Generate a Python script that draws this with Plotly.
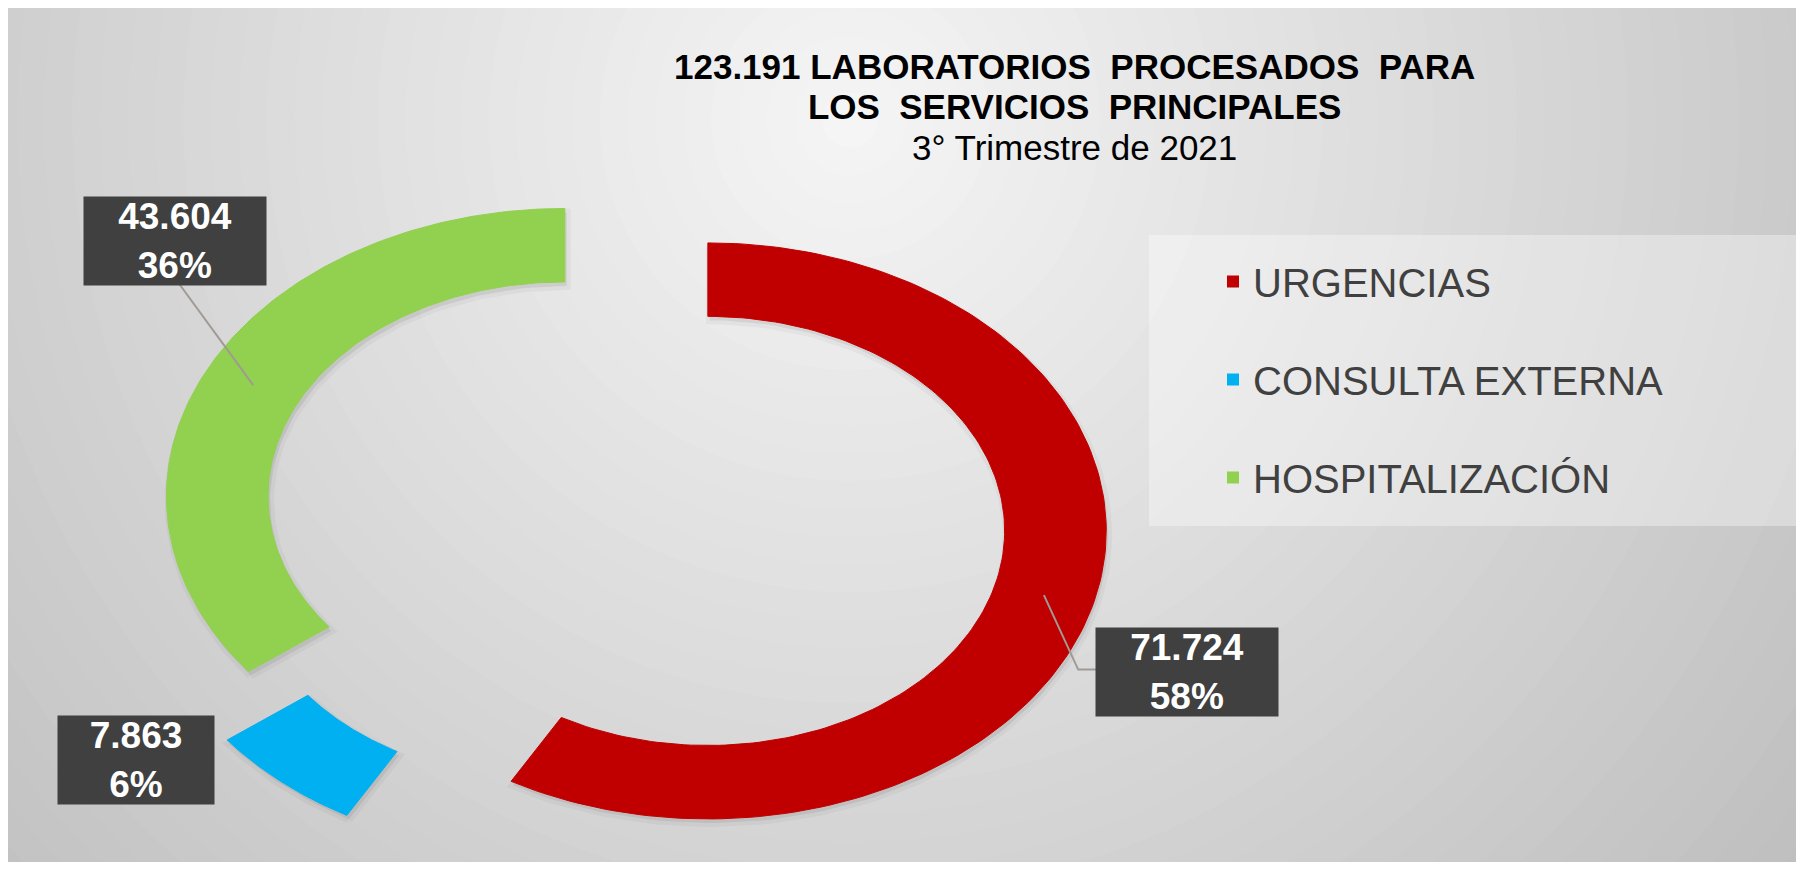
import numpy as np
import plotly.graph_objects as go

# Laboratorios procesados por servicio - 3er trimestre 2021
labels = ["URGENCIAS", "CONSULTA EXTERNA", "HOSPITALIZACIÓN"]
values = [71724, 7863, 43604]
percents = [58, 6, 36]  # as shown on the original chart
period = "3° Trimestre de 2021"

colors = ["#C00000", "#00B0F0", "#92D050"]
pulls = [0.26, 0.245, 0.12]  # exploded slices, fraction of radius
HOLE = 0.745

# label boxes (data units) and leader line bends
label_pos = [(1.453, -0.557), (-1.185, -0.862), (-1.086, 0.940)]
label_width = [176, 150, 176]
leader_ends = [[(1.181, -0.548), (1.228, -0.548)], None, [(-1.079, 0.798)]]

W, H = 1788, 854
FONT = "Liberation Sans, Arial"


def fmt(n):
    return f"{n:,}".replace(",", ".")


total = sum(values)
bounds = np.cumsum([0] + values) / total * 2 * np.pi

fig = go.Figure()

for i, lab in enumerate(labels):
    t = np.linspace(bounds[i], bounds[i + 1], 160)
    mid = (bounds[i] + bounds[i + 1]) / 2
    ox, oy = pulls[i] * np.sin(mid), pulls[i] * np.cos(mid)
    xs = np.concatenate([np.sin(t), HOLE * np.sin(t[::-1]), [np.sin(t[0])]]) + ox
    ys = np.concatenate([np.cos(t), HOLE * np.cos(t[::-1]), [np.cos(t[0])]]) + oy

    # soft shadow under the slice
    fig.add_trace(go.Scatter(
        x=xs + 0.005, y=ys - 0.014, mode="lines", fill="toself",
        fillcolor="rgba(0,0,0,0.07)", line=dict(color="rgba(0,0,0,0.035)", width=8),
        hoverinfo="skip", showlegend=False,
    ))
    fig.add_trace(go.Scatter(
        x=xs, y=ys, mode="lines", fill="toself",
        fillcolor=colors[i], line=dict(color=colors[i], width=1),
        name=lab, legendgroup=lab, showlegend=False,
        text=f"{lab}: {fmt(values[i])} ({percents[i]}%)", hoveron="fills", hoverinfo="text",
    ))
    # legend entry (square marker)
    fig.add_trace(go.Scatter(
        x=[None], y=[None], mode="markers", name=lab, legendgroup=lab,
        marker=dict(symbol="square", size=16, color=colors[i]),
    ))

    # data label
    lx, ly = label_pos[i]
    fig.add_annotation(
        x=lx, y=ly, xref="x", yref="y", showarrow=False,
        text=f"<b>{fmt(values[i])}<br>{percents[i]}%</b>",
        font=dict(family=FONT, size=37, color="white"),
        bgcolor="#404040", width=label_width[i], height=82, borderpad=3,
    )
    if leader_ends[i]:
        rm = (1 + HOLE) / 2
        pts = [(ox + rm * np.sin(mid), oy + rm * np.cos(mid))] + leader_ends[i]
        path = "M " + " L ".join(f"{px:.4f},{py:.4f}" for px, py in pts)
        fig.add_shape(type="path", path=path, xref="x", yref="y",
                      line=dict(color="#a09a94", width=2))

# title: line spacing from base size 31, glyphs drawn at 35px
span = '<span style="font-size:35px">{}</span>'
title_text = "<br>".join([
    span.format(f"<b>{fmt(total)} LABORATORIOS\u00a0 PROCESADOS\u00a0 PARA</b>"),
    span.format("<b>LOS\u00a0 SERVICIOS\u00a0 PRINCIPALES</b>"),
    span.format(period),
])
fig.add_annotation(
    x=1066 / W, y=1 - 99 / H, xref="paper", yref="paper",
    xanchor="center", yanchor="middle", showarrow=False, text=title_text,
    font=dict(family=FONT, size=31, color="black"),
)

# radial gradient background (light near the title, grey towards the corners)
cx, cy = 842, 112  # px from top-left of the figure
shapes = []
n_rings = 45
r_max = 1250
for k in range(n_rings):
    r = r_max * (1 - k / n_rings)
    g = int(round(max(190, 246 - 54 * r / 1190)))
    shapes.append(dict(
        type="circle", xref="paper", yref="paper", layer="below",
        x0=(cx - r) / W, x1=(cx + r) / W,
        y0=1 - (cy + r) / H, y1=1 - (cy - r) / H,
        fillcolor=f"rgb({g},{g},{g})", line=dict(width=0),
    ))
# legend panel
shapes.append(dict(
    type="rect", xref="paper", yref="paper", layer="below",
    x0=1141 / W, x1=1.0, y0=1 - 518 / H, y1=1 - 227 / H,
    fillcolor="rgba(255,255,255,0.35)", line=dict(width=0),
))
for s in shapes:
    fig.add_shape(**s)

fig.update_layout(
    width=W, height=H,
    margin=dict(l=0, r=0, t=0, b=0),
    paper_bgcolor="#d6d6d6",
    plot_bgcolor="rgba(0,0,0,0)",
    font=dict(family=FONT),
    xaxis=dict(range=[-1.5053, 2.9827], visible=False, fixedrange=True),
    yaxis=dict(range=[-1.2160, 1.7493], visible=False, fixedrange=True),
    showlegend=True,
    legend=dict(
        x=1205 / W, xanchor="left", y=1 - 241 / H, yanchor="top",
        bgcolor="rgba(0,0,0,0)",
        font=dict(family=FONT, size=40, color="#404040"),
        tracegroupgap=43, itemsizing="constant",
    ),
)

fig.write_html("out.html")
